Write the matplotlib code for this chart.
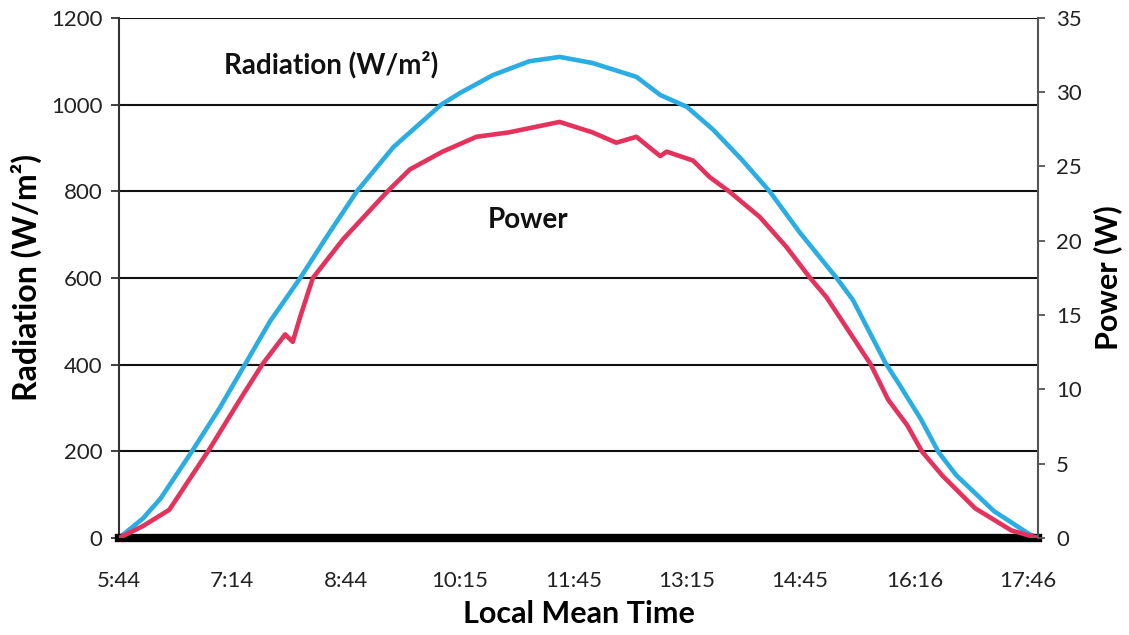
import numpy as np
import matplotlib
matplotlib.use('Agg')
from matplotlib import pyplot as plt

plt.rcParams['font.family'] = ['Lato', 'DejaVu Sans']

# x tick labels (local mean time)
tick_labels = ['5:44', '7:14', '8:44', '10:15', '11:45', '13:15', '14:45', '16:16', '17:46']

# radiation (W/m2), time in minutes after 5:44
rad_t = [0, 19, 33, 58, 80, 100, 120, 144, 165, 189, 218, 256, 271, 297, 326, 350,
         376, 411, 430, 451, 472, 495, 517, 541, 570, 583, 609, 619, 637, 651, 665,
         695, 723, 730]
rad = [0, 45, 91, 200, 300, 400, 500, 600, 695, 800, 902, 1000, 1027, 1068, 1100, 1110,
       1096, 1064, 1022, 995, 942, 872, 799, 704, 600, 549, 403, 358, 274, 198, 145,
       62, 9, 0]

# power (W), time in minutes after 5:44
pow_t = [0, 19, 40, 72, 96, 114, 132, 138, 144, 154, 178, 213, 231, 257, 284, 310, 350,
         376, 395, 411, 424, 430, 435, 456, 469, 485, 509, 530, 549, 562, 597, 611,
         626, 638, 654, 680, 709, 730]
power = [0, 0.8, 1.9, 6.0, 9.3, 11.7, 13.7, 13.2, 14.9, 17.5, 20.1, 23.3, 24.8, 26.0,
         27.0, 27.3, 28.0, 27.3, 26.6, 27.0, 26.1, 25.7, 26.0, 25.4, 24.3, 23.3, 21.6,
         19.6, 17.5, 16.2, 11.7, 9.3, 7.6, 5.8, 4.2, 2.0, 0.5, 0]


def to_min(s):
    h, m = s.split(':')
    return int(h) * 60 + int(m) - (5 * 60 + 44)


tick_pos = [to_min(s) for s in tick_labels]

fig = plt.figure(figsize=(11.29, 6.35), dpi=100)
ax = fig.add_axes([0.1054, 0.1528, 0.814, 0.819])
ax2 = ax.twinx()

blue = '#2AADE3'
red = '#E5325C'

ax.plot(rad_t, rad, color=blue, lw=3.3, solid_joinstyle='round', zorder=3)
ax2.plot(pow_t, power, color=red, lw=3.3, solid_joinstyle='round', zorder=3)

ax.set_xlim(0, 730)
ax.set_ylim(0, 1200)
ax2.set_ylim(0, 35)

for v in range(200, 1201, 200):
    ax.axhline(v, color='#111111', lw=1.5, zorder=1)

ax.set_yticks(range(0, 1201, 200))
ax2.set_yticks(range(0, 36, 5))
ax.set_xticks(tick_pos)
ax.set_xticklabels(tick_labels)

ax.tick_params(axis='y', direction='out', length=6, width=1.3, color='#333333',
               labelsize=16, labelcolor='#222222', pad=6)
ax2.tick_params(axis='y', direction='out', length=5, width=1.3, color='#555555',
                labelsize=16, labelcolor='#222222', pad=8)
ax.tick_params(axis='x', length=0, labelsize=16, labelcolor='#222222', pad=24)

ax.spines['top'].set_visible(False)
ax2.spines['top'].set_visible(False)
ax.spines['left'].set_color('#333333')
ax.spines['left'].set_linewidth(1.5)
ax2.spines['left'].set_visible(False)
ax2.spines['right'].set_color('#555555')
ax2.spines['right'].set_linewidth(1.5)
ax2.spines['bottom'].set_visible(False)
ax.spines['right'].set_visible(False)
ax.spines['bottom'].set_color('black')
ax.spines['bottom'].set_linewidth(6)
ax.spines['bottom'].set_zorder(5)

ax.set_ylabel('Radiation (W/m²)', fontsize=23, fontweight='bold', labelpad=6)
ax2.set_ylabel('Power (W)', fontsize=22, fontweight='bold', labelpad=8)
ax.set_xlabel('Local Mean Time', fontsize=22, fontweight='bold', labelpad=6)

ax.text(0.231, 0.91, 'Radiation (W/m²)', transform=ax.transAxes, fontsize=20,
        fontweight='bold', ha='center', va='center', color='#111111')
ax.text(0.445, 0.612, 'Power', transform=ax.transAxes, fontsize=20,
        fontweight='bold', ha='center', va='center', color='#111111')

fig.savefig('out.png', dpi=100)
